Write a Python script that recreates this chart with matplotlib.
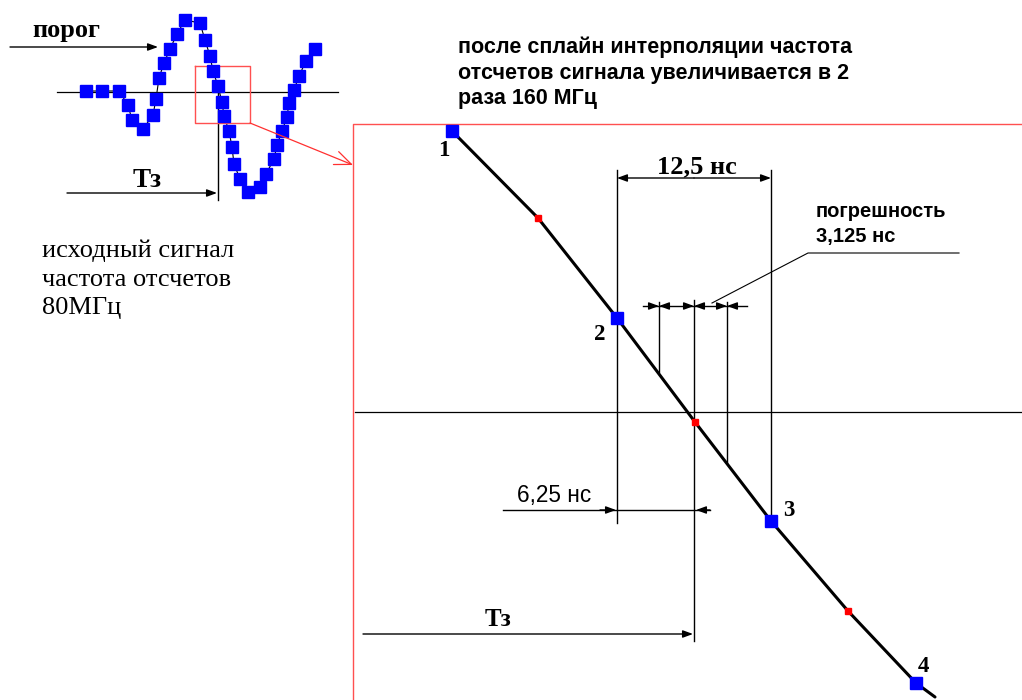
import numpy as np
import matplotlib.pyplot as plt

# исходный сигнал 80 МГц: положение отсчетов на рисунке (px)
sig_x = [86, 102, 119, 128, 132, 143, 153, 156, 159, 164, 170, 177, 185, 200,
         205, 210, 213, 218, 222, 224, 229, 232, 234, 240, 248, 260, 266, 274,
         277, 282, 287, 289, 294, 299, 306, 315]
sig_y = [91, 91, 91, 105, 120, 129, 115, 99, 78, 63, 49, 34, 20, 23,
         40, 56, 71, 86, 102, 116, 131, 147, 164, 179, 192, 187, 174, 159,
         145, 131, 117, 103, 90, 76, 61, 49]

# увеличенный фрагмент: исходные отсчеты 1..4 и отсчеты после сплайна
orig_x = [452, 617, 771, 916]
orig_y = [131, 318, 521, 683]
orig_lbl = ['1', '2', '3', '4']
spl_x = [538, 695, 848]
spl_y = [218, 422, 611]
tail_x, tail_y = 935, 697

# вертикали погрешности
err_x = [659, 694, 727]

SERIF = 'Liberation Serif'
SANS = 'Liberation Sans'

fig = plt.figure(figsize=(10.22, 7.0), dpi=100)
ax = fig.add_axes([0, 0, 1, 1])
ax.set_xlim(0, 1022)
ax.set_ylim(700, 0)
ax.axis('off')


def arrow(x0, y0, x1, y1, color='black', lw=1.0, style='-|>,head_length=0.6,head_width=0.22'):
    ax.annotate('', xy=(x1, y1), xytext=(x0, y0),
                arrowprops=dict(arrowstyle=style, color=color, lw=lw,
                                mutation_scale=10, shrinkA=0, shrinkB=0))


#%% исходный сигнал
ax.plot([57, 338], [92, 92], color='black', lw=0.9)
ax.plot(sig_x, sig_y, color='black', lw=0.8, zorder=2)
ax.plot(sig_x, sig_y, ls='none', marker='s', ms=8, color='#0000ff', zorder=3)

ax.text(32, 37, 'порог', fontfamily=SERIF, fontweight='bold', fontsize=19)
arrow(10, 47, 158, 47)

ax.plot([218, 218], [93, 200], color='black', lw=1.0)
ax.text(133, 187, 'Тз', fontfamily=SERIF, fontweight='bold', fontsize=19.5)
arrow(67, 193, 217, 193)

left_txt = ['исходный сигнал', 'частота отсчетов', '80МГц']
for i, s in enumerate(left_txt):
    ax.text(42, 257 + i * 28.5, s, fontfamily=SERIF, fontsize=19)

# красная рамка и выноска
ax.plot([195, 250, 250, 195, 195], [66, 66, 123, 123, 66], color='#ff5050', lw=1.0)
arrow(250, 123, 353, 165, color='#ff3030', lw=0.9, style='->,head_length=1.2,head_width=0.5')
ax.plot([1022, 353, 353], [124, 124, 700], color='#ff5050', lw=1.0)

#%% подпись сверху
top_txt = ['после сплайн интерполяции частота',
           'отсчетов сигнала увеличивается в 2',
           'раза 160 МГц']
for i, s in enumerate(top_txt):
    ax.text(458, 53 + i * 25.5, s, fontfamily=SANS, fontweight='bold', fontsize=15.5)

#%% увеличенный фрагмент
ax.plot([355, 1022], [412, 412], color='black', lw=0.9)

cx = sorted(orig_x + spl_x) + [tail_x]
cy = sorted(orig_y + spl_y) + [tail_y]
ax.plot(cx, cy, color='black', lw=2.2, solid_capstyle='round', zorder=3)
ax.plot(orig_x, orig_y, ls='none', marker='s', ms=8.5, color='#0000ff', zorder=4)
ax.plot(spl_x, spl_y, ls='none', marker='s', ms=4.8, color='#ff0000', zorder=4)

lbl_dx = [-8, -17, 18, 7]
lbl_dy = [20, 16, -10, -17]
for x, y, s, dx, dy in zip(orig_x, orig_y, orig_lbl, lbl_dx, lbl_dy):
    ax.text(x + dx, y + dy, s, fontfamily=SERIF, fontweight='bold', fontsize=16.5,
            ha='center', va='center')

# 12,5 нс
ax.plot([617, 617], [170, 523], color='black', lw=1.0)
ax.plot([771, 771], [170, 517], color='black', lw=1.0)
arrow(694, 178, 617, 178)
arrow(694, 178, 771, 178)
ax.text(697, 173, '12,5 нс', fontfamily=SERIF, fontweight='bold', fontsize=19, ha='center')

# погрешность
ax.plot([err_x[0]] * 2, [302, 372], color='black', lw=1.0)
ax.plot([err_x[1]] * 2, [300, 641], color='black', lw=1.0)
ax.plot([err_x[2]] * 2, [302, 463], color='black', lw=1.0)
ax.plot([643, 747], [306, 306], color='black', lw=1.0)
for x in err_x:
    arrow(x - 10, 306, x, 306)
    arrow(x + 10, 306, x, 306)
ax.plot([712, 808, 959], [303, 253, 253], color='black', lw=0.8)
ax.text(816, 217, 'погрешность', fontfamily=SANS, fontweight='bold', fontsize=14.5)
ax.text(816, 242, '3,125 нс', fontfamily=SANS, fontweight='bold', fontsize=14.5)

# 6,25 нс
ax.plot([503, 710], [510, 510], color='black', lw=1.0)
arrow(600, 510, 616, 510)
arrow(710, 510, 696, 510)
ax.text(517, 502, '6,25 нс', fontfamily=SANS, fontsize=16.3)

# Тз
arrow(363, 634, 693, 634)
ax.text(485, 626, 'Тз', fontfamily=SERIF, fontweight='bold', fontsize=18)

fig.savefig('out.png', dpi=100)
